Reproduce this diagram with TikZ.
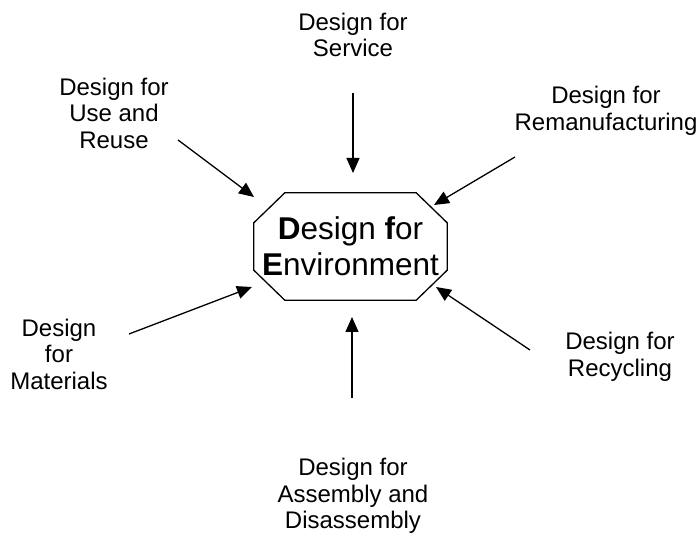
\documentclass[tikz,border=0pt]{standalone}
\usepackage{fontspec}
\setmainfont{Liberation Sans}
\usetikzlibrary{arrows.meta,calc}

\tikzset{
  dftext/.style={align=center,inner sep=0pt,font=\fontsize{24}{26.5}\selectfont},
  feed/.style={-{Triangle[length=15pt,width=13pt]},line width=1.3pt},
}

\begin{document}
\begin{tikzpicture}[x=1pt,y=-1pt]
      \useasboundingbox (0,0) rectangle (699,537);
      \draw (350.5,246.5) node[minimum width=193pt,minimum height=107pt,inner sep=0pt,align=center,font=\fontsize{31.5}{36}\selectfont] (dfe) {\textbf{D}esign \textbf{f}or\\\textbf{E}nvironment};
      \draw[line width=1.3pt] ($(dfe.north west)+(31,0)$) -- ($(dfe.north east)+(-31,0)$) -- ($(dfe.north east)+(0,30)$) -- ($(dfe.south east)+(0,-30)$) -- ($(dfe.south east)+(-31,0)$) -- ($(dfe.south west)+(31,0)$) -- ($(dfe.south west)+(0,-30)$) -- ($(dfe.north west)+(0,30)$) -- cycle;
      \draw (353,35) node[dftext] (service) {Design for\\Service};
      \draw (114,113) node[dftext] (reuse) {Design for\\Use and\\Reuse};
      \draw (606,111) node[dftext] (reman) {Design for\\Remanufacturing};
      \draw (59,354) node[dftext] (material) {Design\\for\\Materials};
      \draw (620,357) node[dftext] (recycle) {Design for\\Recycling};
      \draw (353,496) node[dftext] (assembly) {Design for\\Assembly and\\Disassembly};
      \coordinate (serviceA) at (353,93);     \coordinate (serviceB) at (353,173);
      \coordinate (reuseA) at (178,140);      \coordinate (reuseB) at (254,197);
      \coordinate (remanA) at (515,157);      \coordinate (remanB) at (434,205);
      \coordinate (materialA) at (129,334);   \coordinate (materialB) at (252,287);
      \coordinate (recycleA) at (530,350);    \coordinate (recycleB) at (436,287);
      \coordinate (assemblyA) at (352,398);   \coordinate (assemblyB) at (352,317);
      \draw[feed] (serviceA) -- (serviceB);
      \draw[feed] (reuseA) -- (reuseB);
      \draw[feed] (remanA) -- (remanB);
      \draw[feed] (materialA) -- (materialB);
      \draw[feed] (recycleA) -- (recycleB);
      \draw[feed] (assemblyA) -- (assemblyB);
    \end{tikzpicture}
\end{document}
